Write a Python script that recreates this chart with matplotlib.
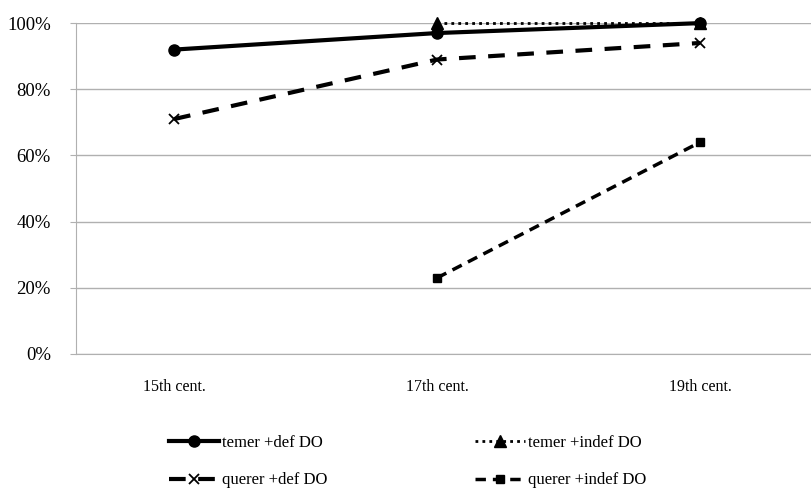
import matplotlib.pyplot as plt
import numpy as np

plt.rcParams['font.family'] = ['Liberation Serif', 'DejaVu Serif']

centuries = ['15th cent.', '17th cent.', '19th cent.']
temer_def = [92, 97, 100]
temer_indef = [np.nan, 100, 100]
querer_def = [71, 89, 94]
querer_indef = [np.nan, 23, 64]
yticks = [0, 20, 40, 60, 80, 100]

fig = plt.figure(figsize=(8.11, 4.92), dpi=100)
ax = fig.add_axes([0.0937, 0.2805, 0.9063, 0.6725])
x = np.arange(len(centuries))

l2, = ax.plot(x, temer_indef, color='black', lw=2, ls=(0, (1, 1.5)), marker='^', ms=8,
              label='temer +indef DO', zorder=3, clip_on=False)
l1, = ax.plot(x, temer_def, color='black', lw=3, ls='-', marker='o', ms=8,
              label='temer +def DO', zorder=4, clip_on=False)
l3, = ax.plot(x, querer_def, color='black', lw=3, ls=(0, (4, 3)), marker='x', ms=7,
              mew=1.3, label='querer +def DO', zorder=3, clip_on=False)
l4, = ax.plot(x, querer_indef, color='black', lw=2.5, ls=(0, (3, 2)), marker='s', ms=6,
              label='querer +indef DO', zorder=3, clip_on=False)

ax.set_xlim(-0.373, 2.422)
ax.set_ylim(0, 100)
ax.set_xticks(x)
ax.set_xticklabels(centuries, fontsize=11.5)
ax.set_yticks(yticks)
ax.set_yticklabels([f'{v}%' for v in yticks], fontsize=13.5)
ax.yaxis.grid(True, color='#b0b0b0', lw=1)
ax.set_axisbelow(True)
for s in ['top', 'right']:
    ax.spines[s].set_visible(False)
ax.spines['left'].set_color('#b0b0b0')
ax.spines['bottom'].set_color('#b0b0b0')
ax.tick_params(axis='x', length=0, pad=18)
ax.tick_params(axis='y', length=4, color='#b0b0b0', pad=14)

fig.legend([l1, l3, l2, l4],
           ['temer +def DO', 'querer +def DO', 'temer +indef DO', 'querer +indef DO'],
           ncol=2, loc='upper left', bbox_to_anchor=(0.2, 0.13), frameon=False,
           fontsize=12, handlelength=3, handletextpad=0.2, columnspacing=8.85,
           labelspacing=1.3, borderaxespad=0)

fig.savefig('out.png', dpi=100)
